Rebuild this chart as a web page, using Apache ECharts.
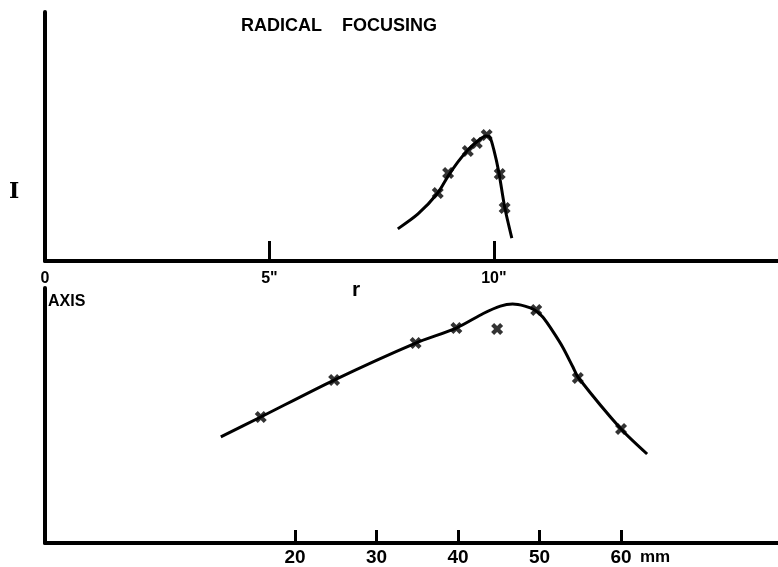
<!DOCTYPE html>
<html>
<head>
<meta charset="utf-8">
<script src="https://cdn.jsdelivr.net/npm/echarts@6/dist/echarts.min.js"></script>
<style>
  html, body { margin: 0; padding: 0; background: #fff; }
  #chart { width: 778px; height: 567px; }
</style>
</head>
<body>
<div id="chart"></div>
<script>
// top panel: intensity I against radius r (inches)
const topCurve = [
  [7.86, 12.9], [8.31, 18.9], [8.75, 27.3], [8.98, 34.1], [9.20, 39.8],
  [9.42, 44.6], [9.64, 48.2], [9.82, 50.2], [9.91, 49.8], [10.0, 44.6],
  [10.11, 35.7], [10.24, 21.7], [10.40, 9.2]
];
const topMarks = [
  [8.75, 27.3], [8.98, 35.3], [9.42, 44.2], [9.62, 47.4],
  [9.84, 50.6], [10.13, 34.9], [10.24, 21.3]
];
const topTicks = [5, 10];
const topLabels = { 0: '0', 5: '5"', 10: '10"' };

// bottom panel: on axis, against mm
const botCurve = [
  [10.9, 41.6], [15.8, 49.4], [24.8, 63.9], [34.8, 78.4], [39.8, 84.3],
  [43.1, 90.0], [45.2, 92.9], [46.7, 93.7], [48.2, 92.9], [49.4, 91.4],
  [50.4, 88.6], [51.7, 82.7], [52.9, 76.5], [54.1, 69.0], [54.8, 64.7],
  [60.0, 44.7], [63.2, 34.9]
];
const botMarks = [
  [15.8, 49.4], [24.8, 63.9], [34.8, 78.4], [39.8, 84.3],
  [44.8, 83.9], [49.6, 91.4], [54.7, 64.7], [60.0, 44.7]
];
const botTicks = [20, 30, 40, 50, 60];

const FONT = 'Liberation Sans';
const crossPath = 'path://M0,2.5 L2.5,0 L5,2.5 L7.5,0 L10,2.5 L7.5,5 L10,7.5 L7.5,10 L5,7.5 L2.5,10 L0,7.5 L2.5,5 Z';

const chart = echarts.init(document.getElementById('chart'));

const axisLine = { show: true, onZero: false, lineStyle: { color: '#000', width: 4 } };

const option = {
  backgroundColor: '#fff',
  animation: false,
  title: {
    text: 'RADICAL    FOCUSING',
    left: 241, top: 17, padding: 0,
    textStyle: { fontFamily: FONT, fontSize: 18, fontWeight: 'bold', color: '#000' }
  },
  grid: [
    { left: 45, top: 12, width: 733, height: 249 },
    { left: 45, top: 288, width: 733, height: 255 }
  ],
  xAxis: [
    {
      type: 'value', gridIndex: 0, min: 0, max: 16.33,
      axisLine: axisLine,
      axisTick: { show: true, inside: true, length: 20, customValues: topTicks, lineStyle: { width: 3, color: '#000' } },
      axisLabel: {
        customValues: [0, 5, 10], margin: 10,
        fontFamily: FONT, fontSize: 16, fontWeight: 'bold', color: '#000',
        formatter: v => topLabels[v]
      },
      splitLine: { show: false }
    },
    {
      type: 'value', gridIndex: 1, min: -10.67, max: 79.26,
      axisLine: axisLine,
      axisTick: { show: true, inside: true, length: 13, customValues: botTicks, lineStyle: { width: 3, color: '#000' } },
      axisLabel: {
        customValues: botTicks, margin: 5,
        fontFamily: FONT, fontSize: 19, fontWeight: 'bold', color: '#000'
      },
      splitLine: { show: false }
    }
  ],
  yAxis: [
    {
      type: 'value', gridIndex: 0, min: 0, max: 100,
      axisLine: axisLine, axisTick: { show: false }, axisLabel: { show: false }, splitLine: { show: false }
    },
    {
      type: 'value', gridIndex: 1, min: 0, max: 100,
      axisLine: axisLine, axisTick: { show: false }, axisLabel: { show: false }, splitLine: { show: false }
    }
  ],
  graphic: [
    { type: 'text', left: 9, top: 181, style: { text: 'I', font: 'bold 22px "DejaVu Serif"', fill: '#000' } },
    { type: 'text', left: 352, top: 280, style: { text: 'r', font: 'bold 21px "Liberation Sans"', fill: '#000' } },
    { type: 'text', left: 48, top: 294, style: { text: 'AXIS', font: 'bold 16px "Liberation Sans"', fill: '#000' } },
    { type: 'text', left: 640, top: 549, style: { text: 'mm', font: 'bold 17px "Liberation Sans"', fill: '#000' } }
  ],
  series: [
    {
      type: 'line', xAxisIndex: 0, yAxisIndex: 0, data: topCurve,
      smooth: 0.25, showSymbol: false, lineStyle: { color: '#000', width: 3 }
    },
    {
      type: 'scatter', xAxisIndex: 0, yAxisIndex: 0, data: topMarks,
      symbol: crossPath, symbolSize: 12, itemStyle: { color: '#000' }
    },
    {
      type: 'line', xAxisIndex: 1, yAxisIndex: 1, data: botCurve,
      smooth: 0.25, showSymbol: false, lineStyle: { color: '#000', width: 3 }
    },
    {
      type: 'scatter', xAxisIndex: 1, yAxisIndex: 1, data: botMarks,
      symbol: crossPath, symbolSize: 12, itemStyle: { color: '#000' }
    }
  ]
};

chart.setOption(option);
</script>
</body>
</html>
